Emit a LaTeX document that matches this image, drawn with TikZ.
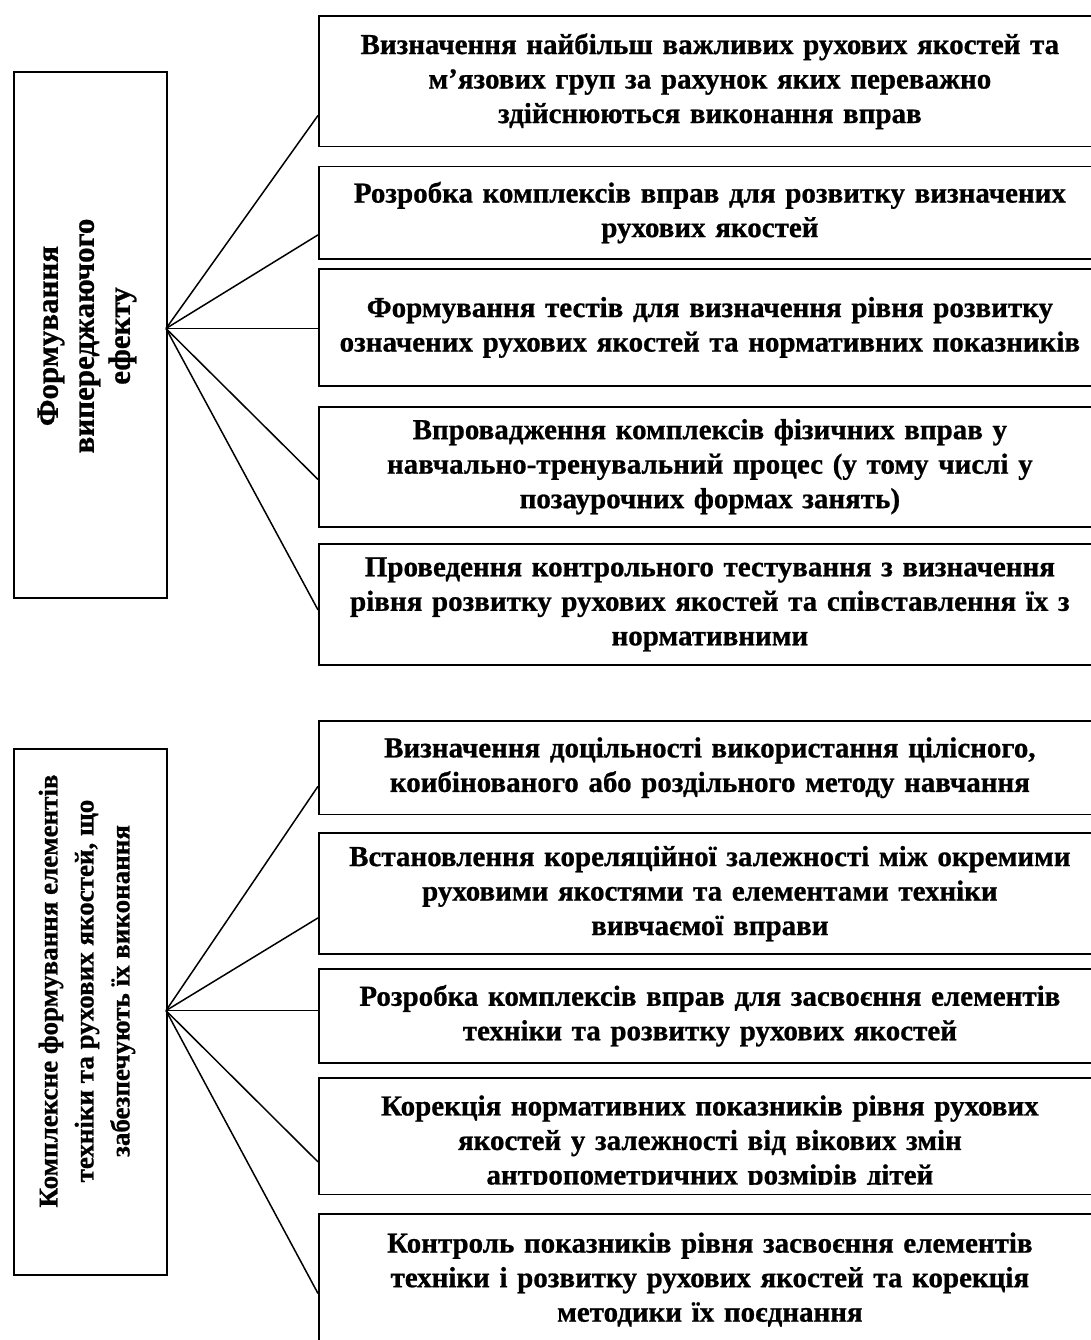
\documentclass[tikz,border=0pt]{standalone}
\usepackage{fontspec}
\setmainfont[BoldFeatures={FakeBold=0.8}]{Liberation Serif}
\usepackage{tikz}
\usetikzlibrary{positioning, calc}
\tikzset{
  rbox/.style={rectangle, draw, line width=1.8pt, anchor=north west,
    minimum width=782pt, text width=780pt, align=center, inner sep=0pt,
    font=\fontsize{29pt}{34.5pt}\selectfont\bfseries},
  lbox/.style={rectangle, draw, line width=1.8pt, anchor=north west,
    minimum width=153pt, inner sep=0pt},
  vtext/.style={rotate=90, align=center, inner sep=0pt,
    font=\fontsize{31pt}{36pt}\selectfont\bfseries},
  link/.style={line width=1.5pt}
}
\begin{document}
\begin{tikzpicture}[x=1pt, y=-1pt]
  \useasboundingbox (0,0) rectangle (1091,1340);

  %% TOP GROUP
  \node[lbox, minimum height=526pt] (lefta) at (13,71) {};
  \node[vtext] (lefta-txt) at (87,336)
    {Формування\\ випереджаючого\\ ефекту};
  \coordinate (huba) at (166,328.5);

  \node[rbox, minimum height=130.7pt] (ta1) at (318,15)
    {Визначення найбільш важливих рухових якостей та\\
     м’язових груп за рахунок яких переважно\\
     здійснюються виконання вправ};
  \node[rbox, minimum height=92pt] (ta2) at (318,165.7)
    {Розробка комплексів вправ для розвитку визначених\\
     рухових якостей};
  \node[rbox, minimum height=117pt] (ta3) at (318,268)
    {Формування тестів для визначення рівня розвитку\\
     означених рухових якостей та нормативних показників};
  \node[rbox, minimum height=119.7pt] (ta4) at (318,406)
    {Впровадження комплексів фізичних вправ у\\
     навчально-тренувальний процес (у тому числі у\\
     позаурочних формах занять)};
  \node[rbox, minimum height=121pt] (ta5) at (318,543)
    {Проведення контрольного тестування з визначення\\
     рівня розвитку рухових якостей та співставлення їх з\\
     нормативними};

  \draw[link] (huba) -- ([yshift=-34.2pt] ta1.west);
  \draw[link] (huba) -- ([yshift=-22.3pt] ta2.west);
  \draw[link] (huba) -- (huba -| ta3.west);
  \draw[link] (huba) -- ([yshift=-12.7pt] ta4.west);
  \draw[link] (huba) -- ([yshift=-5.5pt] ta5.west);

  %% BOTTOM GROUP
  \node[lbox, minimum height=526pt] (leftb) at (13,748) {};
  \node[vtext, font=\fontsize{27pt}{36pt}\selectfont\bfseries] (leftb-txt) at (87,991)
    {Комплексне формування елементів\\
     техніки та рухових якостей, що\\
     забезпечують їх виконання};
  \coordinate (hubb) at (166,1010.6);

  \node[rbox, minimum height=93.6pt] (tb1) at (318,720)
    {Визначення доцільності використання цілісного,\\
     коибінованого або роздільного методу навчання};
  \node[rbox, minimum height=120.6pt] (tb2) at (318,832.4)
    {Встановлення кореляційної залежності між окремими\\
     руховими якостями та елементами техніки\\
     вивчаємої вправи};
  \node[rbox, minimum height=93.7pt] (tb3) at (318,968)
    {Розробка комплексів вправ для засвоєння елементів\\
     техніки та розвитку рухових якостей};
  \node[rbox, minimum height=116.8pt] (tb4) at (318,1076.7) {};
  \begin{scope}
    \clip (tb4.north west) rectangle ([yshift=10.5pt] tb4.south east);
    \node[rbox, draw=none, anchor=center] (tb4-txt) at ([yshift=-7pt] tb4.center)
      {Корекція нормативних показників рівня рухових\\
       якостей у залежності від вікових змін\\
       антропометричних розмірів дітей};
  \end{scope}
  \node[rbox, minimum height=132pt] (tb5) at (318,1212.7)
    {Контроль показників рівня засвоєння елементів\\
     техніки і розвитку рухових якостей та корекція\\
     методики їх поєднання};

  \draw[link] (hubb) -- ([yshift=-18.6pt] tb1.west);
  \draw[link] (hubb) -- ([yshift=-24.3pt] tb2.west);
  \draw[link] (hubb) -- (hubb -| tb3.west);
  \draw[link] (hubb) -- ([yshift=-25.9pt] tb4.west);
  \draw[link] (hubb) -- ([yshift=-13.9pt] tb5.west);

\end{tikzpicture}
\end{document}
